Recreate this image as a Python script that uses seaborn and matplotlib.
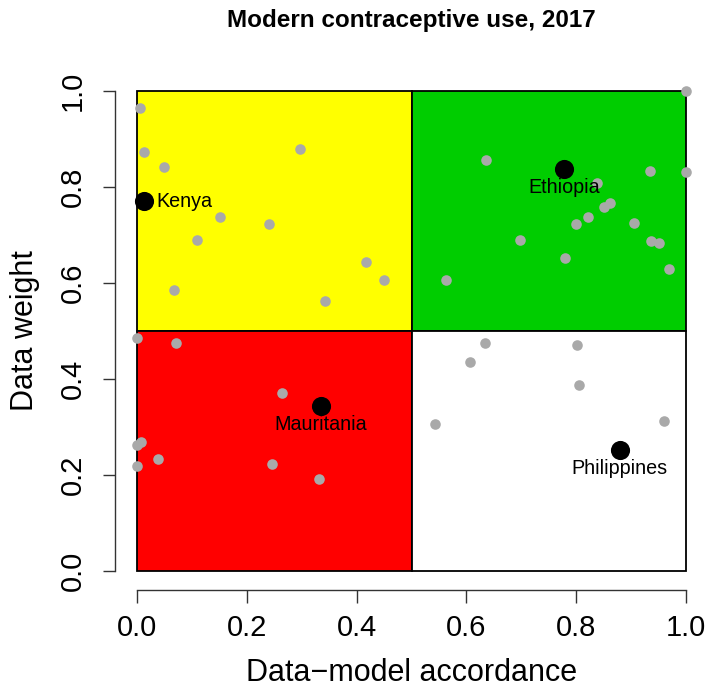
import matplotlib
matplotlib.use("Agg")
import matplotlib.pyplot as plt
import matplotlib.patches as mpatches
import seaborn as sns
import pandas as pd

# Quadrant definitions (x0, y0, width, height, colour)
quad_x0 = [0.0, 0.5, 0.0, 0.5]
quad_y0 = [0.5, 0.5, 0.0, 0.0]
quad_w = [0.5, 0.5, 0.5, 0.5]
quad_h = [0.5, 0.5, 0.5, 0.5]
quad_col = ["#FFFF00", "#00CD00", "#FF0000", "#FFFFFF"]

# Other countries (grey)
grey_x = [0.005, 0.012, 0.049, 0.297, 0.151, 0.240, 0.109, 0.418, 0.450, 0.068, 0.342,
          1.000, 0.636, 0.934, 1.000, 0.837, 0.861, 0.851, 0.822, 0.799, 0.905, 0.698,
          0.936, 0.951, 0.780, 0.969, 0.563,
          0.000, 0.072, 0.265, 0.007, 0.000, 0.038, 0.000, 0.246, 0.331,
          0.633, 0.801, 0.606, 0.805, 0.543, 0.960]
grey_y = [0.965, 0.873, 0.842, 0.880, 0.738, 0.722, 0.689, 0.643, 0.606, 0.585, 0.562,
          1.000, 0.856, 0.833, 0.831, 0.808, 0.767, 0.759, 0.738, 0.723, 0.724, 0.690,
          0.688, 0.683, 0.653, 0.629, 0.606,
          0.486, 0.475, 0.370, 0.269, 0.263, 0.233, 0.218, 0.222, 0.191,
          0.475, 0.471, 0.435, 0.387, 0.306, 0.312]

# Highlighted countries
hl_names = ["Kenya", "Ethiopia", "Mauritania", "Philippines"]
hl_x = [0.012, 0.778, 0.335, 0.879]
hl_y = [0.770, 0.837, 0.344, 0.252]
hl_pos = ["right", "below", "below", "below"]

x_ticks = [0.0, 0.2, 0.4, 0.6, 0.8, 1.0]
y_ticks = [0.0, 0.2, 0.4, 0.6, 0.8, 1.0]

sns.set_style("ticks")
plt.rcParams["font.family"] = ["Liberation Sans", "DejaVu Sans"]
plt.rcParams["text.color"] = "black"
plt.rcParams["axes.labelcolor"] = "black"
plt.rcParams["xtick.labelcolor"] = "black"
plt.rcParams["ytick.labelcolor"] = "black"

fig = plt.figure(figsize=(7.12, 6.94), dpi=100)
ax = fig.add_axes([115 / 712, 1 - 590.2 / 694, (708 - 115) / 712, (590.2 - 71.8) / 694])

for x0, y0, w, h, c in zip(quad_x0, quad_y0, quad_w, quad_h, quad_col):
    ax.add_patch(mpatches.Rectangle((x0, y0), w, h, facecolor=c, edgecolor="black",
                                    linewidth=1.3, zorder=1))

grey_df = pd.DataFrame({"x": grey_x, "y": grey_y})
sns.scatterplot(data=grey_df, x="x", y="y", ax=ax, color="#A9A9A9", s=58,
                linewidth=0, zorder=3)

hl_df = pd.DataFrame({"x": hl_x, "y": hl_y, "name": hl_names})
sns.scatterplot(data=hl_df, x="x", y="y", ax=ax, color="black", s=190,
                linewidth=0, zorder=4)

for n, x, y, p in zip(hl_names, hl_x, hl_y, hl_pos):
    if p == "right":
        ax.annotate(n, (x, y), xytext=(9.5, 0), textcoords="offset points",
                    ha="left", va="center", fontsize=14.2, color="black", zorder=5)
    else:
        ax.annotate(n, (x, y), xytext=(0, -13.5), textcoords="offset points",
                    ha="center", va="center", fontsize=14.2, color="black", zorder=5)

ax.set_xlim(-0.04, 1.04)
ax.set_ylim(-0.04, 1.04)
ax.set_xticks(x_ticks)
ax.set_yticks(y_ticks)
ax.set_xticklabels([f"{v:.1f}" for v in x_ticks], fontsize=21)
ax.set_yticklabels([f"{v:.1f}" for v in y_ticks], fontsize=21, rotation=90, va="center")
ax.tick_params(axis="both", direction="out", length=9, width=1.0, color="#333333")
ax.tick_params(axis="x", pad=8)
ax.tick_params(axis="y", pad=11)

for side in ["top", "right"]:
    ax.spines[side].set_visible(False)
ax.spines["left"].set_bounds(0, 1)
ax.spines["bottom"].set_bounds(0, 1)
for side in ["left", "bottom"]:
    ax.spines[side].set_color("#333333")
    ax.spines[side].set_linewidth(1.0)

ax.set_xlabel("Data\u2212model accordance", fontsize=22, labelpad=12)
ax.set_ylabel("Data weight", fontsize=22, labelpad=14)
fig.text(411.5 / 712, 1 - 21 / 694, "Modern contraceptive use, 2017",
         ha="center", va="center", fontsize=17.5, fontweight="bold", color="black")

fig.savefig("out.png", dpi=100)
